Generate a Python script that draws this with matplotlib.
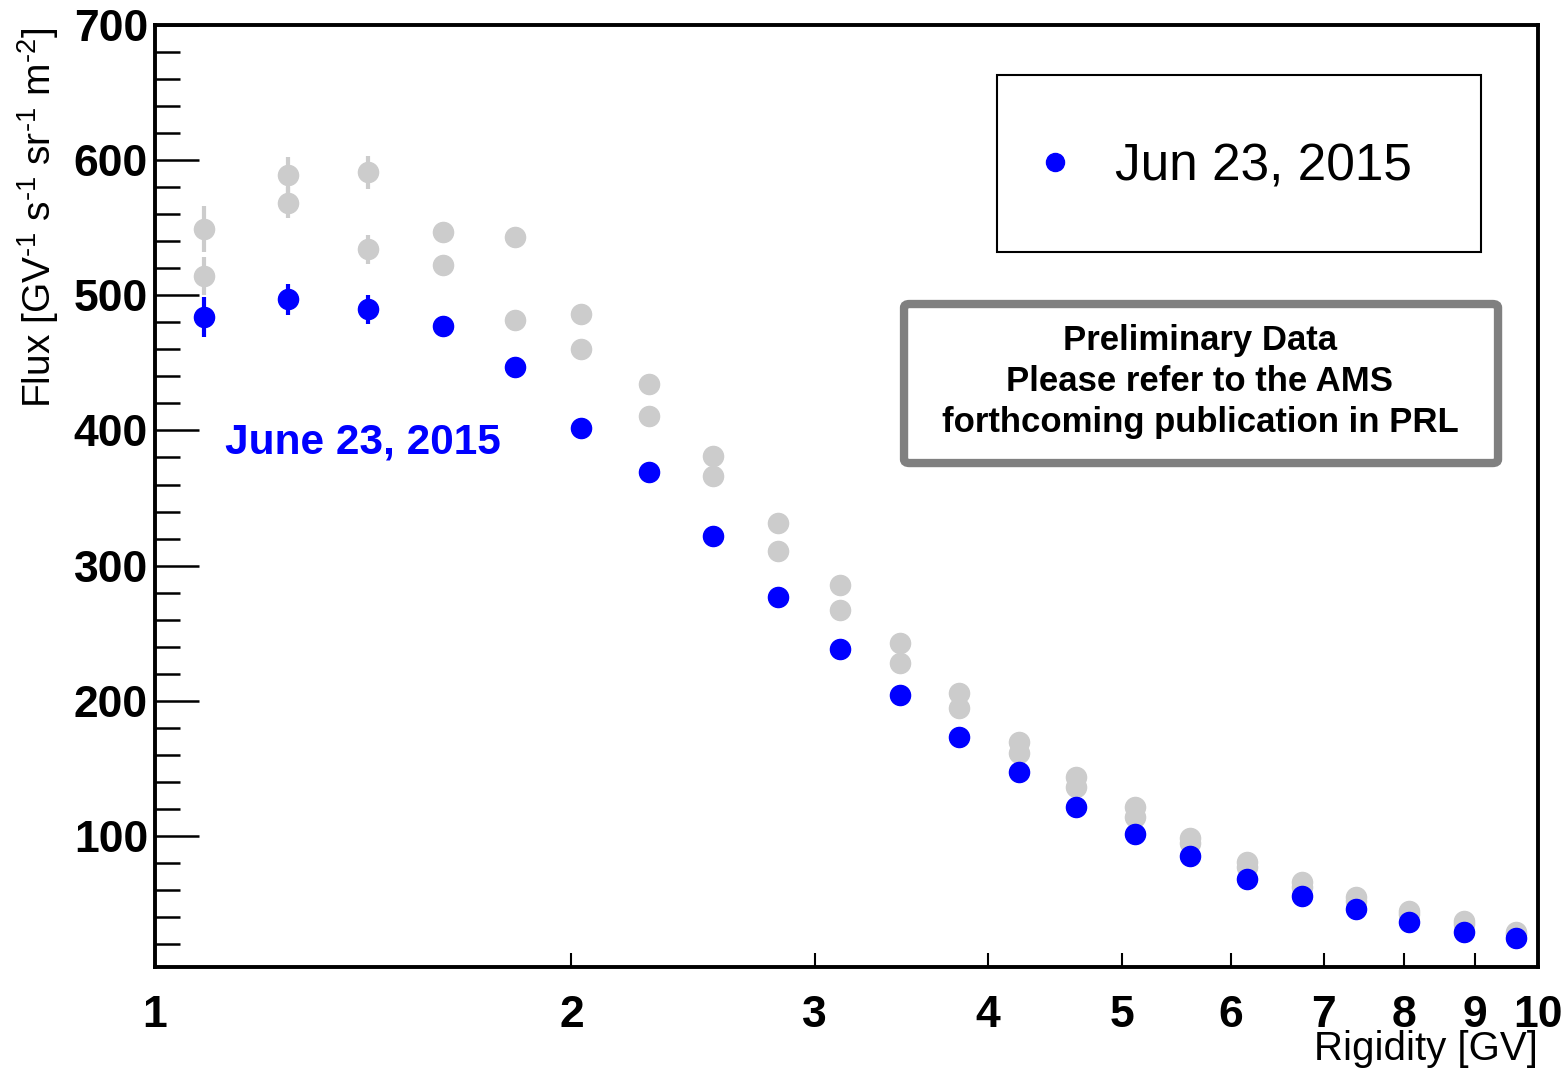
"""
plot.py - AMS proton flux vs rigidity, Jun 23 2015 (preliminary)
"""

import matplotlib
matplotlib.use('Agg')
import matplotlib.pyplot as plt
from matplotlib import font_manager
from matplotlib.patches import Rectangle, FancyBboxPatch
from matplotlib.ticker import FixedLocator, MultipleLocator, NullLocator, FixedFormatter

# bin centres [GV]
rigidity = [1.085, 1.248, 1.426, 1.615, 1.820, 2.033, 2.275, 2.533, 2.822, 3.127, 3.457,
            3.814, 4.215, 4.634, 5.112, 5.60, 6.16, 6.75, 7.39, 8.07, 8.84, 9.64]

# Jun 23, 2015 (blue)
flux_jun23 = [484, 497, 489.5, 477, 447, 401.5, 369, 322, 276.5, 238, 204.5,
              173.5, 147.5, 121.5, 101.5, 85, 68, 55.6, 45.8, 36.6, 29.2, 24.3]
err_jun23 = [15, 11.5, 10.5, 4, 3, 3, 2.5, 2, 2, 1.5, 1.5,
             1, 1, 1, 1, 0.8, 0.7, 0.6, 0.5, 0.4, 0.4, 0.3]

# reference days (grey)
flux_ref_hi = [549, 589, 591, 546.6, 543, 486.2, 434.4, 381.4, 331.3, 285.7, 242.6,
               205.6, 169.8, 143.9, 121.7, 98.3, 81, 66.2, 55.1, 44.8, 37.3, 29.2]
err_ref_hi = [17, 13.5, 12, 4, 3, 3, 2.5, 2, 2, 1.5, 1.5,
              1, 1, 1, 1, 0.8, 0.7, 0.6, 0.5, 0.4, 0.4, 0.3]
flux_ref_lo = [514, 568.5, 534, 522.4, 482, 460.3, 410.7, 366.3, 311.1, 267.2, 228.2,
               194.5, 161, 136.5, 114.3, 94.6, 77, 62.5, 52, 42.5, 35, 27.5]
err_ref_lo = [14, 11.5, 10.5, 3, 3, 3, 2.5, 2, 2, 1.5, 1.5,
              1, 1, 1, 1, 0.8, 0.7, 0.6, 0.5, 0.4, 0.4, 0.3]

xticks = [1, 2, 3, 4, 5, 6, 7, 8, 9, 10]
xticklabels = ['1', '2', '3', '4', '5', '6', '7', '8', '9', '10']
yticks = [100, 200, 300, 400, 500, 600, 700]

BLUE = '#0000ff'
GREY = '#cccccc'

# narrow font for axis numbers if it exists
_names = {f.name for f in font_manager.fontManager.ttflist}
HAS_NARROW = 'Liberation Sans Narrow' in _names
NARROW = 'Liberation Sans Narrow' if HAS_NARROW else 'Liberation Sans'
plt.rcParams['font.family'] = ['Liberation Sans', 'DejaVu Sans']
plt.rcParams['mathtext.fontset'] = 'custom'
plt.rcParams['mathtext.rm'] = NARROW

W, H = 1566, 1074
fig = plt.figure(figsize=(W / 100, H / 100), dpi=100)
ax = fig.add_axes([155 / W, 1 - 967 / H, 1383 / W, 942 / H])

ms = 14.5
ax.errorbar(rigidity, flux_ref_hi, yerr=err_ref_hi, fmt='o', color=GREY, ms=ms,
            elinewidth=3, capsize=0, zorder=2)
ax.errorbar(rigidity, flux_ref_lo, yerr=err_ref_lo, fmt='o', color=GREY, ms=ms,
            elinewidth=3, capsize=0, zorder=2)
ax.errorbar(rigidity, flux_jun23, yerr=err_jun23, fmt='o', color=BLUE, ms=ms,
            elinewidth=3, capsize=0, zorder=3)

ax.set_xscale('log')
ax.set_xlim(1, 10)
ax.set_ylim(3, 700)

ax.xaxis.set_major_locator(FixedLocator(xticks))
ax.xaxis.set_major_formatter(FixedFormatter(xticklabels))
ax.xaxis.set_minor_locator(NullLocator())
ax.yaxis.set_major_locator(FixedLocator(yticks))
ax.yaxis.set_minor_locator(MultipleLocator(20))

tick_fs = 37 if HAS_NARROW else 32
ax.tick_params(axis='x', which='major', direction='in', length=10, width=1.5,
               pad=20, top=False)
ax.tick_params(axis='y', which='major', direction='in', length=32, width=1.8,
               pad=5, right=False)
ax.tick_params(axis='y', which='minor', direction='in', length=18, width=1.8, right=False)
for lab in ax.get_xticklabels() + ax.get_yticklabels():
    lab.set_fontfamily(NARROW)
    lab.set_fontweight('bold')
    lab.set_fontsize(tick_fs)

for s in ax.spines.values():
    s.set_linewidth(2.8)

# hyphen (U+2010) instead of the long minus in the exponents, as in the original
ylab_fs = 33 if HAS_NARROW else 28
ax.set_ylabel('Flux [GV$^{\u20101}$ s$^{\u20101}$ sr$^{\u20101}$ m$^{\u20102}$]',
              fontsize=ylab_fs, family=NARROW, loc='top')
ax.yaxis.set_label_coords(-0.068, 0.997)
ax.set_xlabel('Rigidity [GV]', fontsize=29, loc='right')
ax.xaxis.set_label_coords(1.0, -0.067)

# blue annotation
ax.text(1.124, 391, 'June 23, 2015', color=BLUE, fontsize=30.5, fontweight='bold',
        ha='left', va='center')

# legend box
ax.add_patch(Rectangle((0.6088, 0.759), 0.35, 0.1879, transform=ax.transAxes,
                       fill=False, edgecolor='black', linewidth=1.5, zorder=4))
ax.legend(handles=[plt.Line2D([0], [0], marker='o', color=BLUE, ls='none', ms=13)],
          labels=['Jun 23, 2015'], loc='center', bbox_to_anchor=(0.774, 0.8493),
          frameon=False, fontsize=37, handlelength=0.6, handletextpad=0.86,
          borderpad=0)

# preliminary box
ax.add_patch(FancyBboxPatch((0.5416, 0.535), 0.4295, 0.1688, transform=ax.transAxes,
                            boxstyle='round,pad=0,rounding_size=0.004',
                            fill=True, facecolor='white', edgecolor='#808080',
                            linewidth=6, zorder=4))
ax.text(0.7556, 0.6215,
        'Preliminary Data\nPlease refer to the AMS\nforthcoming publication in PRL',
        transform=ax.transAxes, ha='center', va='center', fontsize=25,
        fontweight='bold', linespacing=1.3, zorder=5)

plt.savefig('out.png', dpi=100)
plt.close()
